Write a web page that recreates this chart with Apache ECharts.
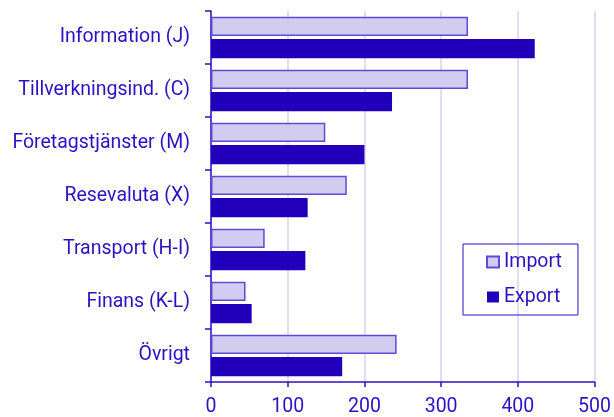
<!DOCTYPE html>
<html>
<head>
<meta charset="utf-8">
<script src="https://cdn.jsdelivr.net/npm/echarts@6/dist/echarts.min.js"></script>
<style>
  html, body { margin: 0; padding: 0; background: #fff; }
  #chart { width: 614px; height: 417px; }
</style>
</head>
<body>
<div id="chart"></div>
<script>
const categories = ['Information (J)', 'Tillverkningsind. (C)', 'Företagstjänster (M)', 'Resevaluta (X)', 'Transport (H-I)', 'Finans (K-L)', 'Övrigt']
const importValues = [335, 335, 149, 177, 70, 45, 242]
const exportValues = [422, 236, 200, 126, 123, 53, 171]

const textColor = '#2a12c4'
const axisColor = '#2a12c4'
const chart = echarts.init(document.getElementById('chart'))

const options = {
  animation: false,
  textStyle: { fontFamily: 'Roboto', color: textColor },
  grid: { left: 211, right: 17, top: 11, bottom: 35 },
  legend: {
    orient: 'vertical',
    left: 463,
    top: 244,
    padding: [8, 16, 8, 23],
    itemGap: 15,
    itemWidth: 12,
    itemHeight: 11,
    icon: 'rect',
    borderColor: axisColor,
    borderWidth: 1,
    textStyle: { fontSize: 19.5, color: textColor },
    data: ['Import', 'Export']
  },
  xAxis: {
    type: 'value',
    min: 0,
    max: 500,
    interval: 100,
    axisLine: { show: true, lineStyle: { color: axisColor, width: 1.5 } },
    axisTick: { show: true, length: 5, lineStyle: { color: axisColor, width: 1.5 } },
    axisLabel: { fontSize: 19.5, color: textColor, margin: 15 },
    splitLine: { show: true, lineStyle: { color: '#d6d2f0', width: 1.5 } }
  },
  yAxis: {
    type: 'category',
    inverse: true,
    data: categories,
    axisLine: { show: true, lineStyle: { color: axisColor, width: 1.5 } },
    axisTick: { show: true, length: 6, lineStyle: { color: axisColor, width: 1.5 } },
    axisLabel: { fontSize: 19.5, color: textColor, margin: 21 }
  },
  series: [
    {
      name: 'Import',
      type: 'bar',
      data: importValues,
      barGap: '15%',
      barCategoryGap: '22%',
      itemStyle: { color: '#d2cdf0', borderColor: '#5a4cd6', borderWidth: 1.5 }
    },
    {
      name: 'Export',
      type: 'bar',
      data: exportValues,
      itemStyle: { color: '#2200bb' }
    }
  ]
}
chart.setOption(options)
</script>
</body>
</html>
